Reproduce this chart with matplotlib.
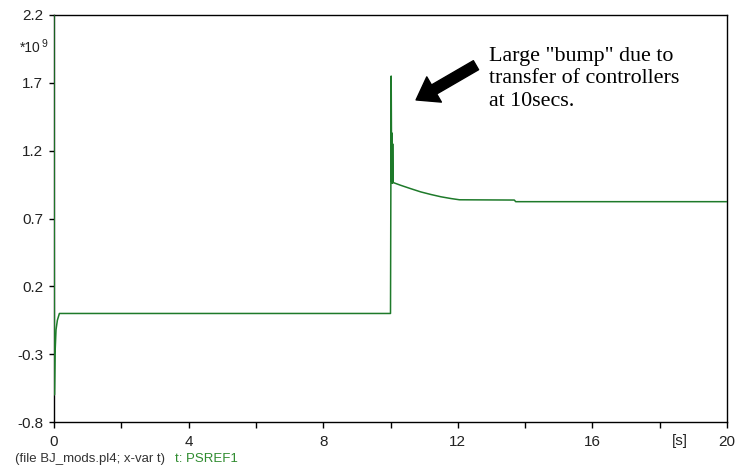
import matplotlib
matplotlib.use("Agg")
import matplotlib.pyplot as plt
from matplotlib.transforms import blended_transform_factory

plt.rcParams['font.family'] = ['Liberation Sans', 'DejaVu Sans']

# Data (values in units of 1e9)
time_s = [0.0, 0.012, 0.03, 0.06, 0.1, 0.16, 10.0, 10.02, 10.035, 10.045, 10.055,
          10.065, 10.08, 10.3, 10.6, 10.9, 11.2, 11.5, 11.8, 12.05, 13.68, 13.72, 20.0]
psref1 = [2.3, -0.6, -0.3, -0.12, -0.05, 0.0, 0.0, 1.75, 0.97, 1.33, 0.96,
          1.25, 0.965, 0.945, 0.92, 0.896, 0.877, 0.86, 0.847, 0.838, 0.836, 0.824, 0.824]

x_ticks = [0, 2, 4, 6, 8, 10, 12, 14, 16, 18, 20]
x_labels = ['0', '', '4', '', '8', '', '12', '', '16', '', '20']
y_ticks = [-0.8, -0.3, 0.2, 0.7, 1.2, 1.7, 2.2]
y_labels = ['-0.8', '-0.3', '0.2', '0.7', '1.2', '1.7', '2.2']

W, H = 739, 471
fig = plt.figure(figsize=(W / 100, H / 100), dpi=100)
L, R, T, B = 54, 727, 15, 422
ax = fig.add_axes([L / W, 1 - B / H, (R - L) / W, (B - T) / H])

line_color = '#1e7a2a'
ax.plot(time_s, psref1, color=line_color, lw=1.1, zorder=3)

ax.set_xlim(0, 20)
ax.set_ylim(-0.8, 2.2)
ax.set_xticks(x_ticks)
ax.set_xticklabels(x_labels)
ax.set_yticks(y_ticks)
ax.set_yticklabels(y_labels)
for s in ax.spines.values():
    s.set_color('black')
    s.set_linewidth(1.0)
ax.tick_params(axis='x', direction='out', length=4.5, width=1, pad=5,
               labelsize=11, labelcolor='#222222')
ax.tick_params(axis='y', direction='out', length=3.6, width=1, pad=4.3,
               labelsize=11, labelcolor='#222222')

# [s] unit label
trans = blended_transform_factory(ax.transData, ax.transAxes)
ax.text(18.6, -0.029, '[s]', transform=trans, ha='center', va='top',
        fontsize=11, color='#222222')

# exponent
fig.text(20 / W, 1 - 48 / H, '*10', ha='left', va='center', fontsize=10, color='#222222')
fig.text(41 / W, 1 - 44 / H, '9', ha='left', va='center', fontsize=7.5, color='#222222')

# annotation
ax.annotate('', xy=(10.76, 1.574), xytext=(12.54, 1.83),
            arrowprops=dict(facecolor='black', edgecolor='black', width=7.5,
                            headwidth=21, headlength=15, shrink=0))
ax.text(12.94, 1.965, 'Large "bump" due to\ntransfer of controllers\nat 10secs.',
        family=['Liberation Serif'], fontsize=15.8, ha='left', va='top',
        linespacing=1.25, color='black')

# footer
fig.text(15 / W, 1 - 459 / H, '(file BJ_mods.pl4; x-var t)', ha='left', va='center',
         fontsize=9.5, color='#333333')
fig.text(175 / W, 1 - 459 / H, 't: PSREF1', ha='left', va='center',
         fontsize=9.5, color='#2e8b2e')

fig.savefig('out.png', dpi=100, facecolor='white')
